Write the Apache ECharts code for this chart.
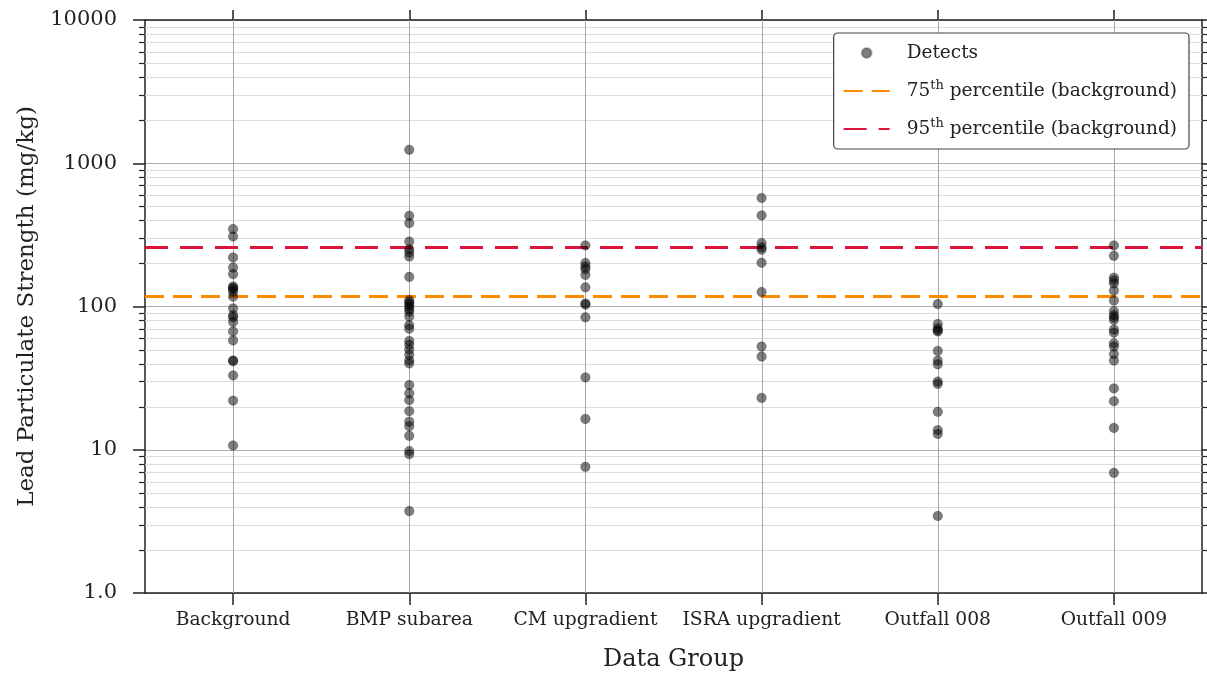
<!DOCTYPE html>
<html><head><meta charset="utf-8">
<script src="https://cdn.jsdelivr.net/npm/echarts@6/dist/echarts.min.js"></script>
<style>html,body{margin:0;padding:0;background:#fff}#c{width:1207px;height:679px}</style>
</head><body><div id="c"></div>
<script>
const categories = ['Background', 'BMP subarea', 'CM upgradient', 'ISRA upgradient', 'Outfall 008', 'Outfall 009'];
const background = [347, 308, 220, 187, 168, 138, 135, 132, 127, 117, 97, 87, 84, 78, 67, 58, 42, 41.5, 33, 22, 10.7];
const bmpSubarea = [1242, 430, 382, 284, 251, 238, 223, 161, 111, 107, 104, 100, 96, 92, 85, 74, 70, 57.5, 54, 50, 46, 42, 40, 28.3, 24.8, 22.2, 18.6, 15.7, 14.6, 12.5, 9.8, 9.3, 3.73];
const cmUpgradient = [267, 201, 190, 182, 166, 136, 105, 103, 84, 32, 16.4, 7.6];
const israUpgradient = [572, 432, 277, 259, 249, 202, 126, 52.5, 44.7, 23];
const outfall008 = [104, 75.5, 70.5, 68, 67, 49, 41.9, 39.5, 29.9, 28.8, 18.4, 13.7, 12.9, 3.45];
const outfall009 = [267, 226, 159, 152, 145, 129, 110, 93, 87, 84, 80.6, 69, 65.7, 55.4, 52.5, 46.6, 41.9, 26.8, 21.8, 14.2, 6.9];
const p75 = 117;
const p95 = 260;
const yMin = 1, yMax = 10000;
const minorTickValues = [2,3,4,5,6,7,8,9,20,30,40,50,60,70,80,90,200,300,400,500,600,700,800,900,2000,3000,4000,5000,6000,7000,8000,9000];
const seriesNames = ['Detects', '75th percentile (background)', '95th percentile (background)'];

const groups = [background, bmpSubarea, cmUpgradient, israUpgradient, outfall008, outfall009];
const scatterData = [];
categories.forEach((c, i) => groups[i].forEach(v => scatterData.push([c, v])));

const SERIF = 'DejaVu Serif';
const INK = '#222';
const axisLineStyle = { color: INK, width: 1.5 };
const HIDDEN = 'rgba(0,0,0,0)';

const chart = echarts.init(document.getElementById('c'), null, { renderer: 'canvas' });
chart.setOption({
  animation: false,
  backgroundColor: '#fff',
  grid: { left: 145, right: 5, top: 20, bottom: 86, containLabel: false },
  legend: {
    orient: 'vertical', right: 18, top: 33,
    padding: [8, 12, 8, 9],
    itemWidth: 46, itemHeight: 10, itemGap: 14,
    backgroundColor: '#fff', borderColor: '#444', borderWidth: 1.2, borderRadius: 4,
    data: seriesNames,
    formatter: n => n.replace(/^(\d+)th/, '$1{sup|th}'),
    textStyle: {
      fontFamily: SERIF, fontSize: 18.5, color: INK, lineHeight: 24, padding: [0, 0, 0, 12],
      rich: { sup: { fontFamily: SERIF, fontSize: 13, color: INK, verticalAlign: 'top', lineHeight: 14 } }
    },
    selectedMode: false
  },
  xAxis: [{
    type: 'category', data: categories, boundaryGap: true, position: 'bottom',
    axisLine: { show: true, lineStyle: axisLineStyle },
    axisTick: { show: true, inside: false, alignWithLabel: true, interval: 0, length: 12, lineStyle: axisLineStyle },
    axisLabel: { interval: 0, fontFamily: SERIF, fontSize: 18.7, color: INK, margin: 18 },
    splitLine: { show: false },
    name: 'Data Group', nameLocation: 'middle', nameGap: 55,
    nameTextStyle: { fontFamily: SERIF, fontSize: 24, color: INK }
  }, {
    type: 'category', data: categories, boundaryGap: true, position: 'top',
    axisLine: { show: true, lineStyle: axisLineStyle },
    axisTick: { show: true, inside: false, alignWithLabel: true, interval: 0, length: 10, lineStyle: axisLineStyle },
    axisLabel: { show: false }, splitLine: { show: false }
  }],
  yAxis: [{
    type: 'log', logBase: 10, min: yMin, max: yMax, position: 'left',
    axisLine: { show: true, lineStyle: axisLineStyle },
    axisTick: { show: true, length: 12, lineStyle: axisLineStyle },
    axisLabel: {
      fontFamily: SERIF, fontSize: 21, color: INK, margin: 28,
      formatter: v => { const r = Math.round(v); return r === 1 ? '1.0' : String(r); }
    },
    splitLine: { show: true, lineStyle: { color: '#b0b0b0', width: 1.2 } },
    name: 'Lead Particulate Strength (mg/kg)', nameLocation: 'middle', nameGap: 106,
    nameTextStyle: { fontFamily: SERIF, fontSize: 23, color: INK }
  }, {
    type: 'log', logBase: 10, min: yMin, max: yMax, position: 'right',
    axisLine: { show: true, lineStyle: axisLineStyle },
    axisTick: { show: true, length: 12, lineStyle: axisLineStyle },
    axisLabel: { show: false }, splitLine: { show: false }
  }],
  series: [{
    type: 'custom', name: 'minorGrid', silent: true, z: 1, clip: false,
    xAxisIndex: 0, yAxisIndex: 0,
    data: minorTickValues.map(v => [0, v]),
    encode: { x: 0, y: 1 },
    renderItem: (params, api) => {
      const cs = params.coordSys;
      const y = Math.round(api.coord([0, api.value(1)])[1]) + 0.5;
      return { type: 'group', children: [
        { type: 'line', shape: { x1: cs.x, y1: y, x2: cs.x + cs.width, y2: y }, style: { stroke: '#dcdcdc', lineWidth: 1.2 } },
        { type: 'line', shape: { x1: cs.x - 6, y1: y, x2: cs.x, y2: y }, style: { stroke: INK, lineWidth: 1.2 } },
        { type: 'line', shape: { x1: cs.x + cs.width, y1: y, x2: cs.x + cs.width + 6, y2: y }, style: { stroke: INK, lineWidth: 1.2 } }
      ] };
    }
  }, {
    type: 'custom', name: 'catGrid', silent: true, z: 2, clip: false,
    xAxisIndex: 0, yAxisIndex: 0,
    data: categories.map(c => [c, 1]),
    encode: { x: 0, y: 1 },
    renderItem: (params, api) => {
      const cs = params.coordSys;
      const x = Math.round(api.coord([api.value(0), 1])[0]) + 0.5;
      return { type: 'line', shape: { x1: x, y1: cs.y, x2: x, y2: cs.y + cs.height }, style: { stroke: '#a8a8a8', lineWidth: 1 } };
    }
  }, {
    type: 'line', name: seriesNames[1], data: [], symbol: 'none', z: 3,
    itemStyle: { color: HIDDEN, borderWidth: 0 },
    lineStyle: { color: '#ff8c00', width: 3, type: [19, 9] },
    markLine: { silent: true, symbol: 'none', label: { show: false },
      lineStyle: { color: '#ff8c00', width: 3, type: [19, 9] },
      emphasis: { disabled: true },
      data: [{ yAxis: p75 }] }
  }, {
    type: 'line', name: seriesNames[2], data: [], symbol: 'none', z: 3,
    itemStyle: { color: HIDDEN, borderWidth: 0 },
    lineStyle: { color: '#dc143c', width: 3, type: [23, 12] },
    markLine: { silent: true, symbol: 'none', label: { show: false },
      lineStyle: { color: '#dc143c', width: 3, type: [23, 12] },
      emphasis: { disabled: true },
      data: [{ yAxis: p95 }] }
  }, {
    type: 'scatter', name: seriesNames[0], data: scatterData, z: 5,
    symbol: 'circle', symbolSize: 9.5,
    itemStyle: { color: 'rgba(0,0,0,0.5)', borderColor: 'rgba(0,0,0,0.25)', borderWidth: 1, opacity: 1 },
    emphasis: { disabled: true }
  }]
});
</script></body></html>
